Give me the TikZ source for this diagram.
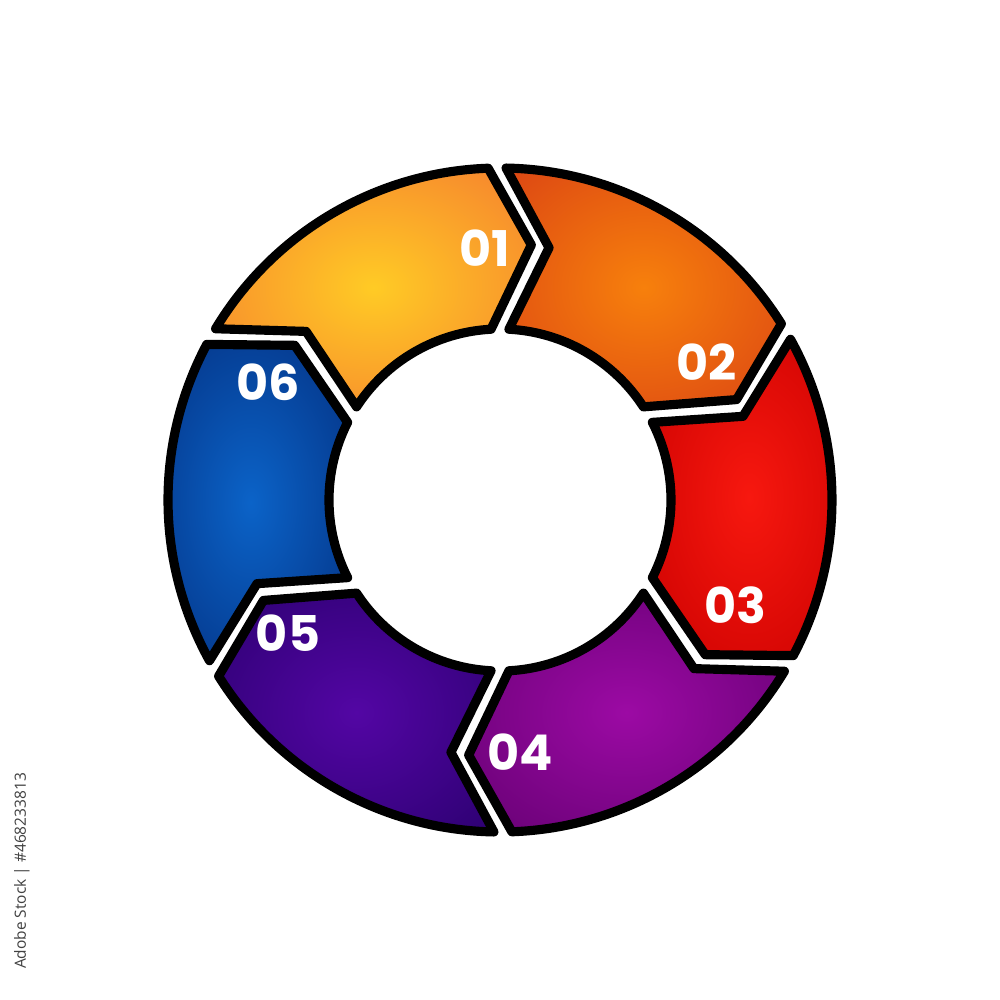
\documentclass[tikz,border=0pt]{standalone}
\usepackage{fontspec}
\newfontfamily\numfont{Poppins}
\newfontfamily\idfont{Open Sans}
\pgfdeclareradialshading[segin,segout]{segshade}{\pgfpoint{0bp}{0bp}}{color(0bp)=(segin); color(38bp)=(segout); color(50bp)=(segout)}
\definecolor{segin}{HTML}{FFFFFF}
\definecolor{segout}{HTML}{000000}
\def\Ro{332}
\def\Ri{171}
\def\Rt{257}
\newcommand{\ringseg}[3]{%
  \definecolor{segin}{HTML}{#2}\definecolor{segout}{HTML}{#3}%
  \pgfmathsetmacro\as{#1}%
  \pgfmathsetmacro\ae{#1-60}%
  \shadedraw[segline, shading=segshade]
    (\as-1.05:\Ro) arc[start angle=\as-1.05, end angle=\ae+2.05, radius=\Ro]
    -- (\ae-7:\Rt) -- (\ae+3:\Ri)
    arc[start angle=\ae+3, end angle=\as-3, radius=\Ri]
    -- (\as-11:\Rt) -- cycle;
}
\begin{document}
\begin{tikzpicture}[x=0.01cm, y=0.01cm,
  segline/.style={draw=black, line width=2.6pt, line join=round},
  numlbl/.style={text=white, font=\numfont\bfseries\fontsize{14pt}{14pt}\selectfont, inner sep=0pt},
  idlbl/.style={text=black!75, font=\idfont\fontsize{4.4pt}{5pt}\selectfont, inner sep=0pt, rotate=90}]
\fill[white] (-500,-500) rectangle (500,500);
\useasboundingbox (-500,-500) rectangle (500,500);
% segments (clockwise from top-left)
\ringseg{150}{FFCB25}{F57A2F}
\ringseg{90}{F7800C}{DA4214}
\ringseg{30}{F7180F}{CA0000}
\ringseg{-30}{9C0AA4}{620070}
\ringseg{-90}{5306A4}{2A006E}
\ringseg{-150}{0B63C8}{032E7E}
% labels
\node[numlbl] (n1) at (-15,252) {01};
\node[numlbl] (n2) at (207,138) {02};
\node[numlbl] (n3) at (235,-105) {03};
\node[numlbl] (n4) at (20,-252) {04};
\node[numlbl] (n5) at (-212,-133) {05};
\node[numlbl] (n6) at (-232,118) {06};
% stock id
\node[idlbl] (sid) at (-478,-371) {Adobe Stock | \#468233813};
\end{tikzpicture}
\end{document}
